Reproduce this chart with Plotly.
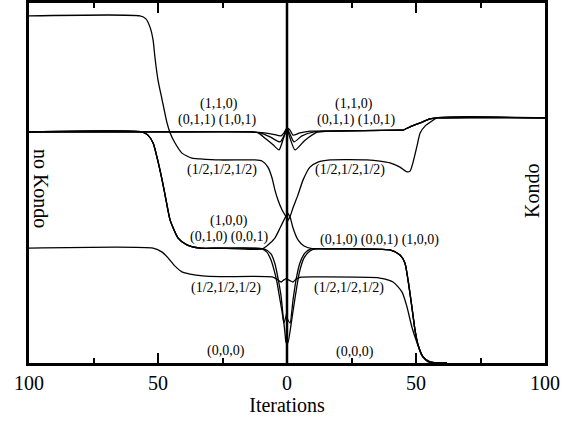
import plotly.graph_objects as go

# ---------------------------------------------------------------
# NRG flow of the lowest many-body levels, labelled by (Q1,Q2,Q3).
# Left half: no Kondo (iterations run outward to the left),
# right half: Kondo (iterations run outward to the right).
# Energies in arbitrary units, ground state (0,0,0) at 0.
# ---------------------------------------------------------------

# ---- no Kondo side -------------------------------------------------
nk_top_it = [100, 57.0, 54.7, 53.1, 51.9, 51.2, 50.0, 48.4, 46.5, 45.3, 43.4, 40.7,
             36.8, 33.7, 26.0, 12.4, 9.7, 7.4, 5.8, 4.7, 3.5, 1.9, 0.4, 0]
nk_top_E = [9.64, 9.64, 9.56, 9.33, 8.97, 8.50, 7.86, 7.31, 6.67, 6.39, 6.11, 5.83,
            5.69, 5.67, 5.64, 5.64, 5.61, 5.44, 5.14, 4.81, 4.53, 4.25, 4.06, 3.97]

# (1,0,0),(0,1,0),(0,0,1) triplet: common descent, then the three members split near 0
nk_trip_it = [100, 56.2, 53.9, 51.9, 50.4, 48.4, 46.9, 45.3, 42.2, 38.8, 33.7, 26.0]
nk_trip_E = [6.42, 6.42, 6.33, 6.11, 5.72, 5.08, 4.53, 3.97, 3.47, 3.28, 3.19, 3.19]
nk_trip_a_it = [9.7, 7.4, 4.7, 2.7, 0.8, 0]
nk_trip_a_E = [3.17, 3.28, 3.47, 3.75, 4.03, 4.14]
nk_trip_b_it = [9.7, 7.8, 6.2, 5.0, 3.9, 2.7, 1.9, 1.2, 0]
nk_trip_b_E = [3.17, 3.08, 2.86, 2.58, 2.25, 1.75, 1.42, 1.11, 1.42]
nk_trip_c_it = [8.9, 6.2, 4.65, 3.5, 2.3, 1.55, 0.78, 0.39, 0]
nk_trip_c_E = [3.17, 3.03, 2.75, 2.36, 1.86, 1.33, 0.83, 0.56, 0.69]

nk_half_it = [100, 51.9, 48.4, 46.1, 43.4, 40.7, 37.6, 32.6, 26.0, 5.8, 3.9, 2.3, 1.2, 0]
nk_half_E = [3.19, 3.19, 3.08, 2.92, 2.69, 2.53, 2.47, 2.42, 2.40, 2.39, 2.33, 2.25, 2.31, 2.36]

# (1,1,0),(0,1,1),(1,0,1) triplet
nk_pair_it = [100, 50.0, 14.3]
nk_pair_E = [6.42, 6.42, 6.42]
nk_pair_a_it = [9.7, 5.8, 2.3, 1.2, 0]
nk_pair_a_E = [6.40, 6.36, 6.31, 6.39, 6.53]
nk_pair_b_it = [10.5, 6.6, 2.7, 1.2, 0]
nk_pair_b_E = [6.39, 6.28, 6.14, 6.31, 6.53]
nk_pair_c_it = [11.2, 8.1, 5.4, 3.1, 1.6, 0]
nk_pair_c_E = [6.39, 6.22, 6.06, 5.92, 6.19, 6.53]

# ---- Kondo side ----------------------------------------------------
k_upper_it = [0, 1.16, 2.33, 4.26, 6.2, 8.9, 12.0, 16.7, 31.0, 36.0, 39.9, 43.8,
              46.5, 47.7, 48.8, 50.4, 51.6, 53.5, 56.2, 58.1, 100]
k_upper_E = [3.92, 4.06, 4.31, 4.67, 5.08, 5.44, 5.58, 5.64, 5.64, 5.61, 5.56, 5.44,
             5.31, 5.33, 5.56, 6.03, 6.39, 6.58, 6.72, 6.81, 6.81]

k_trip_tail_it = [16.7, 39.9, 43.8, 45.7, 46.9, 48.4, 49.6, 50.8, 52.7, 55.4, 58.1, 62.0]
k_trip_tail_E = [3.17, 3.14, 3.00, 2.78, 2.31, 1.56, 0.92, 0.50, 0.17, 0.03, 0.0, 0.0]
k_trip_a_it = [0, 1.16, 2.33, 4.26, 6.6, 9.7]
k_trip_a_E = [4.19, 4.06, 3.75, 3.42, 3.25, 3.18]
k_trip_b_it = [0, 1.16, 2.33, 3.5, 5.0, 7.0, 9.3]
k_trip_b_E = [1.25, 1.11, 1.75, 2.31, 2.78, 3.06, 3.17]
k_trip_c_it = [0, 0.39, 1.94, 3.3, 4.84, 6.6, 8.9, 10.9]
k_trip_c_E = [0.64, 0.56, 1.25, 1.89, 2.53, 2.92, 3.11, 3.17]

k_half_it = [0, 1.16, 2.33, 3.5, 5.0, 12.8, 36.0, 41.1, 44.6, 46.5, 48.4, 50.4,
             52.3, 54.7, 58.1, 62.0]
k_half_E = [2.33, 2.29, 2.25, 2.33, 2.38, 2.39, 2.36, 2.25, 1.97, 1.56, 1.00, 0.56,
            0.22, 0.03, 0.0, 0.0]

k_pair_tail_it = [16.0, 43.8, 45.0, 47.7, 51.6, 55.4, 58.1, 100]
k_pair_tail_E = [6.44, 6.47, 6.47, 6.56, 6.67, 6.78, 6.81, 6.81]
k_pair_a_it = [0, 1.16, 2.33, 5.0, 8.9]
k_pair_a_E = [6.53, 6.47, 6.33, 6.39, 6.44]
k_pair_b_it = [0, 1.16, 2.7, 5.8, 10.5]
k_pair_b_E = [6.53, 6.36, 6.14, 6.31, 6.42]
k_pair_c_it = [0, 1.16, 3.1, 7.0, 12.0]
k_pair_c_E = [6.53, 6.25, 5.92, 6.19, 6.42]

# ---- level labels --------------------------------------------------
label_text = ["(1,1,0)", "(0,1,1) (1,0,1)", "(1/2,1/2,1/2)", "(1,0,0)",
              "(0,1,0) (0,0,1)", "(1/2,1/2,1/2)", "(0,0,0)",
              "(1,1,0)", "(0,1,1) (1,0,1)", "(1/2,1/2,1/2)",
              "(0,1,0) (0,0,1) (1,0,0)", "(1/2,1/2,1/2)", "(0,0,0)"]
label_x = [-26.4, -27.1, -25.2, -22.5, -22.5, -23.6, -23.6,
           26.0, 26.7, 24.4, 35.7, 24.0, 26.4]
label_y = [7.19, 6.75, 5.36, 3.94, 3.50, 2.08, 0.33,
           7.19, 6.75, 5.36, 3.42, 2.08, 0.31]

tick_vals = [-100, -50, 0, 50, 100]
tick_text = ["100", "50", "0", "50", "100"]
minor_vals = [-75, -25, 25, 75]

# ---- curves: (iterations, energies, side) ---------------------------
curves = [
    (nk_top_it, nk_top_E, -1),
    (nk_trip_it + nk_trip_a_it, nk_trip_E + nk_trip_a_E, -1),
    (nk_trip_it + nk_trip_b_it, nk_trip_E + nk_trip_b_E, -1),
    (nk_trip_it + nk_trip_c_it, nk_trip_E + nk_trip_c_E, -1),
    (nk_half_it, nk_half_E, -1),
    (nk_pair_it + nk_pair_a_it, nk_pair_E + nk_pair_a_E, -1),
    (nk_pair_it + nk_pair_b_it, nk_pair_E + nk_pair_b_E, -1),
    (nk_pair_it + nk_pair_c_it, nk_pair_E + nk_pair_c_E, -1),
    (k_upper_it, k_upper_E, 1),
    (k_trip_a_it + k_trip_tail_it, k_trip_a_E + k_trip_tail_E, 1),
    (k_trip_b_it + k_trip_tail_it, k_trip_b_E + k_trip_tail_E, 1),
    (k_trip_c_it + k_trip_tail_it, k_trip_c_E + k_trip_tail_E, 1),
    (k_half_it, k_half_E, 1),
    (k_pair_a_it + k_pair_tail_it, k_pair_a_E + k_pair_tail_E, 1),
    (k_pair_b_it + k_pair_tail_it, k_pair_b_E + k_pair_tail_E, 1),
    (k_pair_c_it + k_pair_tail_it, k_pair_c_E + k_pair_tail_E, 1),
]

SERIF = "Liberation Serif"

fig = go.Figure()
for it, en, side in curves:
    fig.add_trace(go.Scatter(
        x=[side * v for v in it], y=en, mode="lines",
        line=dict(color="black", width=1.3, shape="spline", smoothing=0.6),
        showlegend=False, hoverinfo="skip"))

for t, x, y in zip(label_text, label_x, label_y):
    fig.add_annotation(x=x, y=y, text=t, showarrow=False,
                       font=dict(family=SERIF, size=14, color="black"))

fig.add_annotation(x=-95.3, y=4.86, text="no Kondo", textangle=90, showarrow=False,
                   font=dict(family=SERIF, size=20, color="black"))
fig.add_annotation(x=95.0, y=4.78, text="Kondo", textangle=-90, showarrow=False,
                   font=dict(family=SERIF, size=20, color="black"))

# separator between the two halves
fig.add_shape(type="line", x0=0, x1=0, y0=0, y1=1, xref="x", yref="paper",
              line=dict(color="black", width=2.5), layer="above")

fig.update_xaxes(range=[-100, 100], tickvals=tick_vals, ticktext=tick_text,
                 ticks="inside", ticklen=10, tickwidth=1.5, tickcolor="black",
                 minor=dict(tickvals=minor_vals, ticks="inside", ticklen=5,
                            tickwidth=1.5, tickcolor="black"),
                 showline=True, linewidth=2.5, linecolor="black", mirror="ticks",
                 showgrid=False, zeroline=False, automargin=False,
                 tickfont=dict(family=SERIF, size=20, color="black"),
                 title=dict(text="Iterations", standoff=6,
                            font=dict(family=SERIF, size=20, color="black")))
fig.update_yaxes(range=[0, 10], showline=True, linewidth=2.5, linecolor="black",
                 mirror=True, ticks="", showticklabels=False, automargin=False,
                 showgrid=False, zeroline=False)

fig.update_layout(width=577, height=422,
                  margin=dict(l=29, r=32, t=3, b=59, autoexpand=False),
                  paper_bgcolor="white", plot_bgcolor="white")

fig.write_html("out.html")
